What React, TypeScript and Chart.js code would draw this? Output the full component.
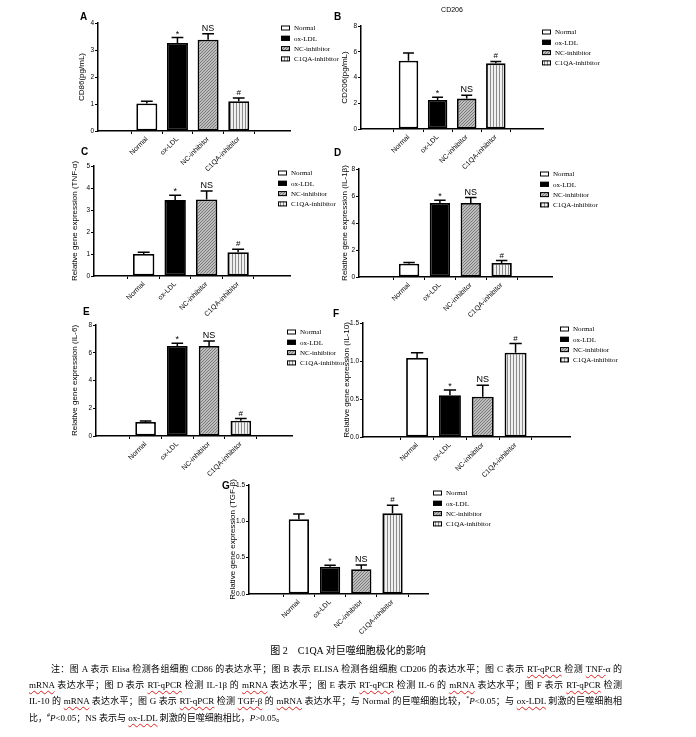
import React, { useEffect, useRef } from 'react';
import { Chart, registerables } from 'chart.js';
Chart.register(...registerables);

Chart.defaults.font.family = '"Liberation Sans", Arial, sans-serif';
Chart.defaults.color = '#000';

// ---------- data ----------
const categories = ['Normal', 'ox-LDL', 'NC-inhibitor', 'C1QA-inhibitor'];
const marks = ['', '*', 'NS', '#'];

const cd86Values = [1.02, 3.26, 3.38, 1.1];
const cd86Errors = [0.08, 0.2, 0.22, 0.12];
const cd86Ticks = [0, 1, 2, 3, 4];

const cd206Values = [5.31, 2.25, 2.36, 5.1];
const cd206Errors = [0.6, 0.21, 0.26, 0.15];
const cd206Ticks = [0, 2, 4, 6, 8];

const tnfValues = [1.0, 3.45, 3.48, 1.08];
const tnfErrors = [0.08, 0.22, 0.38, 0.14];
const tnfTicks = [0, 1, 2, 3, 4, 5];

const il1bValues = [0.99, 5.48, 5.48, 1.04];
const il1bErrors = [0.08, 0.2, 0.4, 0.18];
const il1bTicks = [0, 2, 4, 6, 8];

const il6Values = [1.01, 6.49, 6.49, 1.1];
const il6Errors = [0.08, 0.19, 0.36, 0.16];
const il6Ticks = [0, 2, 4, 6, 8];

const il10Values = [1.04, 0.55, 0.53, 1.11];
const il10Errors = [0.07, 0.07, 0.15, 0.12];
const il10Ticks = [0, 0.5, 1.0, 1.5];

const tgfValues = [1.03, 0.376, 0.34, 1.11];
const tgfErrors = [0.07, 0.02, 0.06, 0.11];
const tgfTicks = [0, 0.5, 1.0, 1.5];

// ---------- layout ----------
type Panel = {
  letter: string;
  letterPos: { x: number; y: number };
  title?: string;
  yLabel: string;
  values: number[];
  errors: number[];
  ticks: number[];
  decimals: number;
  area: { l: number; t: number; r: number; b: number };
  xMin: number;
  xMax: number;
  barPct: number;
  legend: { dx: number; dy: number };
  titleGap: number;
};

const panels: Panel[] = [
  {
    letter: 'A', letterPos: { x: 80, y: 12 }, yLabel: 'CD86(pg/mL)',
    values: cd86Values, errors: cd86Errors, ticks: cd86Ticks, decimals: 0,
    area: { l: 98, t: 23, r: 290, b: 131 }, xMin: -0.81, xMax: 3.89, barPct: 0.686,
    legend: { dx: -9, dy: 5 }, titleGap: 16,
  },
  {
    letter: 'B', letterPos: { x: 334, y: 12 }, title: 'CD206', yLabel: 'CD206(pg/mL)',
    values: cd206Values, errors: cd206Errors, ticks: cd206Ticks, decimals: 0,
    area: { l: 361, t: 26, r: 543, b: 129 }, xMin: -0.85, xMax: 3.84, barPct: 0.67,
    legend: { dx: -1, dy: 6 }, titleGap: 16,
  },
  {
    letter: 'C', letterPos: { x: 81, y: 147 }, yLabel: 'Relative gene expression (TNF-α)',
    values: tnfValues, errors: tnfErrors, ticks: tnfTicks, decimals: 0,
    area: { l: 94, t: 166, r: 290, b: 276 }, xMin: -0.8, xMax: 3.87, barPct: 0.68,
    legend: { dx: -12, dy: 7 }, titleGap: 19,
  },
  {
    letter: 'D', letterPos: { x: 334, y: 148 }, yLabel: 'Relative gene expression (IL-1β)',
    values: il1bValues, errors: il1bErrors, ticks: il1bTicks, decimals: 0,
    area: { l: 359, t: 169, r: 552, b: 277 }, xMin: -0.84, xMax: 3.85, barPct: 0.66,
    legend: { dx: -12, dy: 5 }, titleGap: 14,
  },
  {
    letter: 'E', letterPos: { x: 83, y: 307 }, yLabel: 'Relative gene expression (IL-6)',
    values: il6Values, errors: il6Errors, ticks: il6Ticks, decimals: 0,
    area: { l: 96, t: 325, r: 292, b: 436 }, xMin: -0.79, xMax: 3.84, barPct: 0.65,
    legend: { dx: -5, dy: 7 }, titleGap: 21,
  },
  {
    letter: 'F', letterPos: { x: 333, y: 309 }, yLabel: 'Relative gene expression (IL-10)',
    values: il10Values, errors: il10Errors, ticks: il10Ticks, decimals: 1,
    area: { l: 363, t: 323, r: 570, b: 437 }, xMin: -0.86, xMax: 3.87, barPct: 0.67,
    legend: { dx: -10, dy: 6 }, titleGap: 16,
  },
  {
    letter: 'G', letterPos: { x: 222, y: 481 }, yLabel: 'Relative gene expression (TGF-β)',
    values: tgfValues, errors: tgfErrors, ticks: tgfTicks, decimals: 1,
    area: { l: 249, t: 485, r: 428, b: 594 }, xMin: -0.88, xMax: 3.42, barPct: 0.65,
    legend: { dx: 5, dy: 8 }, titleGap: 16,
  },
];

const PAD_TOP = 20;
const PAD_RIGHT = 64;
const XH = 52;

function makeFills(ctx: CanvasRenderingContext2D): (string | CanvasPattern)[] {
  const h = document.createElement('canvas');
  h.width = 3; h.height = 3;
  const hc = h.getContext('2d')!;
  hc.fillStyle = '#bdbdbd';
  hc.fillRect(0, 0, 3, 3);
  hc.fillStyle = '#7a7a7a';
  hc.fillRect(2, 0, 1, 1);
  hc.fillRect(1, 1, 1, 1);
  hc.fillRect(0, 2, 1, 1);
  const s = document.createElement('canvas');
  s.width = 3; s.height = 3;
  const sc = s.getContext('2d')!;
  sc.fillStyle = '#f0f0f0';
  sc.fillRect(0, 0, 3, 3);
  sc.fillStyle = '#8a8a8a';
  sc.fillRect(0, 0, 1, 3);
  const hatch = ctx.createPattern(h, 'repeat')!;
  const stripe = ctx.createPattern(s, 'repeat')!;
  return ['#ffffff', '#000000', hatch, stripe];
}

function makeAnnot(p: Panel, fills: (string | CanvasPattern)[]) {
  return {
    id: 'annot',
    afterDatasetsDraw(chart: any) {
      const ctx: CanvasRenderingContext2D = chart.ctx;
      const ys = chart.scales.y;
      const meta = chart.getDatasetMeta(0);
      ctx.save();
      meta.data.forEach((bar: any, i: number) => {
        const v = p.values[i];
        const e = p.errors[i];
        const x = bar.x;
        const w = bar.width;
        const yv = ys.getPixelForValue(v);
        const ye = ys.getPixelForValue(v + e);
        ctx.strokeStyle = '#000';
        ctx.lineWidth = 1.5;
        ctx.beginPath();
        ctx.moveTo(x, yv);
        ctx.lineTo(x, ye);
        ctx.moveTo(x - w * 0.28, ye);
        ctx.lineTo(x + w * 0.28, ye);
        ctx.stroke();
        const m = marks[i];
        if (m) {
          ctx.fillStyle = '#000';
          ctx.textAlign = 'center';
          ctx.textBaseline = 'alphabetic';
          if (m === 'NS') {
            ctx.font = '9px "Liberation Sans", Arial, sans-serif';
            ctx.fillText(m, x, ye - 3);
          } else if (m === '*') {
            ctx.font = '9px "Liberation Sans", Arial, sans-serif';
            ctx.fillText(m, x, ye - 1);
          } else {
            ctx.font = '8px "Liberation Sans", Arial, sans-serif';
            ctx.fillText(m, x, ye - 3);
          }
        }
      });
      ctx.restore();
    },
    afterDraw(chart: any) {
      const ctx: CanvasRenderingContext2D = chart.ctx;
      const ca = chart.chartArea;
      ctx.save();
      const lx = ca.right + p.legend.dx;
      categories.forEach((c, i) => {
        const cy = ca.top + p.legend.dy + i * 10.3;
        ctx.fillStyle = fills[i] as any;
        ctx.fillRect(lx, cy - 2.5, 9, 5);
        ctx.strokeStyle = '#000';
        ctx.lineWidth = 1;
        ctx.strokeRect(lx + 0.5, cy - 2, 8, 4);
        ctx.fillStyle = '#000';
        ctx.font = '7px "Liberation Serif", "Times New Roman", serif';
        ctx.textAlign = 'left';
        ctx.textBaseline = 'middle';
        ctx.fillText(c, lx + 13, cy + 0.5);
      });
      if (p.title) {
        ctx.font = '7px "Liberation Sans", Arial, sans-serif';
        ctx.textAlign = 'center';
        ctx.textBaseline = 'middle';
        ctx.fillText(p.title, (ca.left + ca.right) / 2, ca.top - 16);
      }
      ctx.restore();
    },
  };
}

function ChartPanel({ p }: { p: Panel }) {
  const ref = useRef<HTMLCanvasElement>(null);
  const yw = p.titleGap + 5;
  const left = p.area.l - yw;
  const top = p.area.t - PAD_TOP;
  const width = p.area.r - left + PAD_RIGHT;
  const height = p.area.b - top + XH;

  useEffect(() => {
    const canvas = ref.current!;
    const fills = makeFills(canvas.getContext('2d')!);
    const chart = new Chart(canvas, {
      type: 'bar',
      data: {
        datasets: [
          {
            data: p.values.map((v, i) => ({ x: i, y: v })),
            backgroundColor: fills as any,
            borderColor: '#000',
            borderWidth: 1.8,
            borderSkipped: false,
            barPercentage: p.barPct,
            categoryPercentage: 1,
          } as any,
        ],
      },
      options: {
        responsive: false,
        animation: false,
        events: [],
        layout: { padding: { top: PAD_TOP, right: PAD_RIGHT, left: 0, bottom: 0 } },
        plugins: { legend: { display: false }, tooltip: { enabled: false } },
        scales: {
          x: {
            type: 'linear',
            min: p.xMin,
            max: p.xMax,
            bounds: 'data',
            afterBuildTicks: (s: any) => {
              s.ticks = categories.map((_, i) => ({ value: i }));
            },
            afterFit: (s: any) => {
              s.height = XH;
            },
            ticks: {
              autoSkip: false,
              minRotation: 45,
              maxRotation: 45,
              padding: 1,
              color: '#000',
              font: { size: 7 },
              callback: (v: any) => categories[Math.round(Number(v))] ?? '',
            },
            grid: { drawOnChartArea: false, drawTicks: true, tickLength: 3, color: '#000', lineWidth: 1 },
            border: { display: true, color: '#000', width: 1.5 },
          },
          y: {
            min: 0,
            max: p.ticks[p.ticks.length - 1],
            afterBuildTicks: (s: any) => {
              s.ticks = p.ticks.map((v) => ({ value: v }));
            },
            afterFit: (s: any) => {
              s.width = yw;
            },
            ticks: {
              padding: 1,
              color: '#000',
              font: { size: 6.5 },
              callback: (v: any) => Number(v).toFixed(p.decimals),
            },
            grid: { drawOnChartArea: false, drawTicks: true, tickLength: 3, color: '#000', lineWidth: 1 },
            border: { display: true, color: '#000', width: 1.5 },
            title: { display: true, text: p.yLabel, color: '#000', font: { size: 8 }, padding: 0 },
          },
        },
      } as any,
      plugins: [makeAnnot(p, fills)],
    });
    return () => chart.destroy();
  }, []);

  return (
    <>
      <canvas
        ref={ref}
        width={width}
        height={height}
        style={{ position: 'absolute', left, top, width, height }}
      />
      <div
        style={{
          position: 'absolute',
          left: p.letterPos.x,
          top: p.letterPos.y,
          font: 'bold 10px "Liberation Sans", Arial, sans-serif',
          lineHeight: '10px',
          color: '#000',
        }}
      >
        {p.letter}
      </div>
    </>
  );
}

const wavy: React.CSSProperties = {
  textDecorationLine: 'underline',
  textDecorationStyle: 'wavy',
  textDecorationColor: '#e02020',
  textDecorationThickness: '1px',
  textUnderlineOffset: '2px',
};
const U = ({ children }: { children: React.ReactNode }) => <span style={wavy}>{children}</span>;
const Sup = ({ children }: { children: React.ReactNode }) => (
  <span style={{ fontSize: '6px', verticalAlign: '4px', lineHeight: 0 }}>{children}</span>
);

const lineBase: React.CSSProperties = {
  position: 'absolute',
  left: 29,
  width: 593,
  height: 16,
  lineHeight: '16px',
  fontSize: '9px',
  color: '#000',
  fontFamily: '"Liberation Serif", "Noto Sans CJK SC", serif',
};
const justified: React.CSSProperties = { textAlign: 'justify', textAlignLast: 'justify' as any };

export default function App() {
  return (
    <div
      style={{
        position: 'absolute',
        left: 0,
        top: 0,
        width: 696,
        height: 737,
        background: '#fff',
        overflow: 'hidden',
      }}
    >
      {panels.map((p) => (
        <ChartPanel key={p.letter} p={p} />
      ))}
      <div
        style={{
          position: 'absolute',
          left: 0,
          width: 696,
          top: 643,
          lineHeight: '16px',
          textAlign: 'center',
          fontSize: '10px',
          fontFamily: '"Liberation Serif", "Noto Sans CJK SC", serif',
          color: '#000',
        }}
      >
        图 2　C1QA 对巨噬细胞极化的影响
      </div>
      <div style={{ ...lineBase, ...justified, top: 661, left: 51, width: 571 }}>
        注：图 A 表示 Elisa 检测各组细胞 CD86 的表达水平；图 B 表示 ELISA 检测各组细胞 CD206 的表达水平；图 C 表示 <U>RT-qPCR</U> 检测 <U>TNF-</U>α 的
      </div>
      <div style={{ ...lineBase, ...justified, top: 677 }}>
        <U>mRNA</U> 表达水平；图 D 表示 <U>RT-qPCR</U> 检测 IL-1β 的 <U>mRNA</U> 表达水平；图 E 表示 <U>RT-qPCR</U> 检测 IL-6 的 <U>mRNA</U> 表达水平；图 F 表示 <U>RT-qPCR</U> 检测
      </div>
      <div style={{ ...lineBase, ...justified, top: 693 }}>
        IL-10 的 <U>mRNA</U> 表达水平；图 G 表示 <U>RT-qPCR</U> 检测 <U>TGF-β</U> 的 <U>mRNA</U> 表达水平；与 Normal 的巨噬细胞比较，<Sup>*</Sup>
        <i>P</i>&lt;0.05；与 <U>ox-LDL</U> 刺激的巨噬细胞相
      </div>
      <div style={{ ...lineBase, top: 710, whiteSpace: 'nowrap' }}>
        比，<Sup>#</Sup>
        <i>P</i>&lt;0.05；NS 表示与 <U>ox-LDL</U> 刺激的巨噬细胞相比，<i>P</i>&gt;0.05。
      </div>
    </div>
  );
}
